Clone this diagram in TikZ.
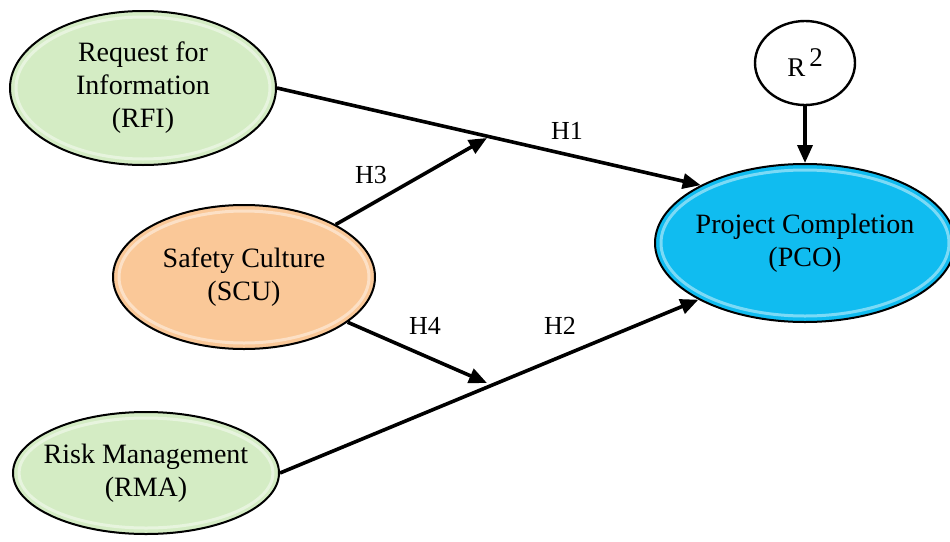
\documentclass[tikz,border=0pt]{standalone}
\usepackage{fontspec}
\setmainfont{Liberation Serif}
\usetikzlibrary{shapes.geometric,arrows.meta,calc}
\definecolor{rfigreen}{RGB}{212,236,196}
\definecolor{scuorange}{RGB}{250,200,152}
\definecolor{pcoblue}{RGB}{16,188,240}
\begin{document}
\begin{tikzpicture}[x=1pt,y=-1pt,
  construct/.style={ellipse, draw=black, line width=2pt, inner xsep=-30pt, inner ysep=0pt, align=center,
    font=\fontsize{28}{33}\selectfont,
    path picture={\draw[white, opacity=0.45, line width=3pt]
      let \p1=(path picture bounding box.north east), \p2=(path picture bounding box.center) in
      (\p2) ellipse [x radius={\x1-\x2-6pt}, y radius={\y1-\y2-6pt}];}},
  arrowline/.style={line width=3.6pt, -{Triangle[length=18pt,width=15pt]}},
  hlabel/.style={font=\fontsize{26}{30}\selectfont, inner sep=0pt}
]
\useasboundingbox (0,0) rectangle (950,541);

\node[construct, fill=rfigreen, minimum width=266pt, minimum height=154pt] (rfi) at (143,88) {Request for\\Information\\(RFI)};
\node[construct, fill=scuorange, minimum width=262pt, minimum height=144pt] (scu) at (244,277) {Safety Culture\\(SCU)};
\node[construct, fill=rfigreen, minimum width=266pt, minimum height=122pt] (rma) at (146,473) {Risk Management\\(RMA)};
\node[construct, fill=pcoblue, minimum width=300pt, minimum height=158pt] (pco) at (805,243) {Project Completion\\(PCO)};
\node[ellipse, draw=black, line width=2.4pt, fill=white, inner sep=0pt, minimum width=100pt, minimum height=84pt,
  font=\fontsize{27}{30}\selectfont] (r2) at (805,63) {R\hspace{4pt}\raisebox{10pt}{2}};

\coordinate (j1) at (487,138);
\coordinate (j2) at (487,383);

\draw[arrowline] (rfi.east) -- (pco.151);
\draw[arrowline] (rma.east) -- (pco.208);
\draw[arrowline] (scu) -- (j1);
\draw[arrowline] (scu) -- (j2);
\draw[arrowline] (r2.south) -- (pco.north);

\node[hlabel] (h1) at (567,131) {H1};
\node[hlabel] (h2) at (560,326) {H2};
\node[hlabel] (h3) at (371,175) {H3};
\node[hlabel] (h4) at (425,326) {H4};
\end{tikzpicture}
\end{document}
